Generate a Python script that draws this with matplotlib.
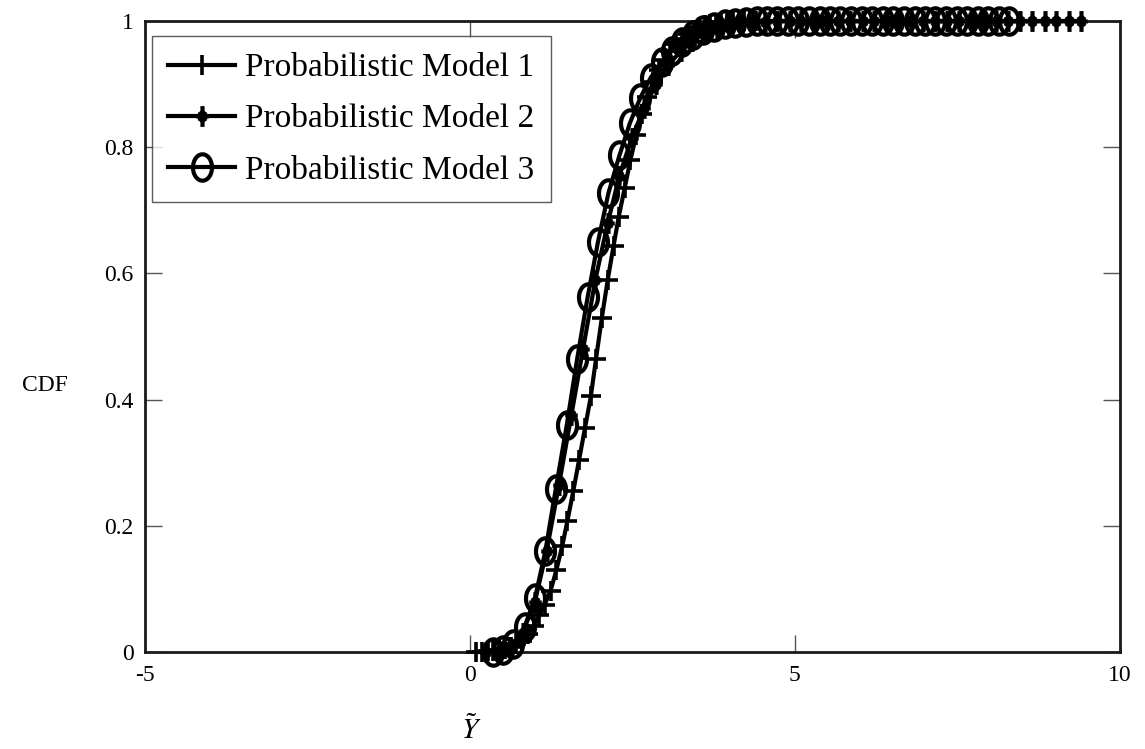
import numpy as np
import matplotlib
matplotlib.use("Agg")
import matplotlib.pyplot as plt
from matplotlib.path import Path

plt.rcParams['font.family'] = ['Liberation Serif', 'DejaVu Serif']
plt.rcParams['mathtext.fontset'] = 'stix'

labels = ["Probabilistic Model 1", "Probabilistic Model 2", "Probabilistic Model 3"]

x1 = [0.10, 0.19, 0.28, 0.36, 0.45, 0.54, 0.63, 0.71, 0.80, 0.89,
      0.98, 1.07, 1.15, 1.24, 1.33, 1.42, 1.50, 1.59, 1.68, 1.77,
      1.86, 1.94, 2.03, 2.12, 2.21, 2.29, 2.38, 2.47, 2.56, 2.65,
      2.73, 2.82, 2.91, 3.00, 3.08, 3.17, 3.26, 3.35, 3.44, 3.52,
      3.61, 3.70, 3.79, 3.87, 3.96, 4.05, 4.14, 4.22, 4.31, 4.40]
y1 = [0.000, 0.000, 0.001, 0.002, 0.003, 0.005, 0.008, 0.012, 0.018, 0.028,
      0.042, 0.058, 0.075, 0.097, 0.130, 0.168, 0.208, 0.255, 0.305, 0.355,
      0.405, 0.465, 0.530, 0.590, 0.644, 0.690, 0.735, 0.780, 0.820, 0.852,
      0.880, 0.903, 0.922, 0.938, 0.952, 0.963, 0.972, 0.980, 0.986, 0.990,
      0.993, 0.995, 0.997, 0.998, 0.999, 0.999, 1.000, 1.000, 1.000, 1.000]

x2 = [0.25, 0.44, 0.62, 0.81, 1.00, 1.18, 1.37, 1.56, 1.74, 1.93,
      2.12, 2.30, 2.49, 2.68, 2.86, 3.05, 3.24, 3.42, 3.61, 3.80,
      3.98, 4.17, 4.36, 4.54, 4.73, 4.92, 5.10, 5.29, 5.48, 5.66,
      5.85, 6.04, 6.22, 6.41, 6.60, 6.78, 6.97, 7.16, 7.34, 7.53,
      7.72, 7.90, 8.09, 8.28, 8.46, 8.65, 8.84, 9.02, 9.21, 9.40]
y2 = [0.000, 0.002, 0.008, 0.030, 0.080, 0.160, 0.265, 0.375, 0.480, 0.590,
      0.680, 0.755, 0.815, 0.862, 0.900, 0.930, 0.952, 0.968, 0.980, 0.988,
      0.993, 0.996, 0.998, 0.999, 1.000, 1.000, 1.000, 1.000, 1.000, 1.000,
      1.000, 1.000, 1.000, 1.000, 1.000, 1.000, 1.000, 1.000, 1.000, 1.000,
      1.000, 1.000, 1.000, 1.000, 1.000, 1.000, 1.000, 1.000, 1.000, 1.000]

x3 = [0.35, 0.51, 0.67, 0.84, 1.00, 1.16, 1.32, 1.49, 1.65, 1.81,
      1.97, 2.13, 2.30, 2.46, 2.62, 2.78, 2.95, 3.11, 3.27, 3.43,
      3.59, 3.76, 3.92, 4.08, 4.24, 4.41, 4.57, 4.73, 4.89, 5.05,
      5.22, 5.38, 5.54, 5.70, 5.87, 6.03, 6.19, 6.35, 6.51, 6.68,
      6.84, 7.00, 7.16, 7.32, 7.49, 7.65, 7.81, 7.97, 8.14, 8.30]
y3 = [0.000, 0.003, 0.012, 0.040, 0.085, 0.160, 0.258, 0.360, 0.465, 0.562,
      0.650, 0.727, 0.787, 0.838, 0.878, 0.910, 0.935, 0.953, 0.967, 0.978,
      0.986, 0.991, 0.995, 0.997, 0.999, 1.000, 1.000, 1.000, 1.000, 1.000,
      1.000, 1.000, 1.000, 1.000, 1.000, 1.000, 1.000, 1.000, 1.000, 1.000,
      1.000, 1.000, 1.000, 1.000, 1.000, 1.000, 1.000, 1.000, 1.000, 1.000]

xticks = [-5, 0, 5, 10]
yticks = [0, 0.2, 0.4, 0.6, 0.8, 1]
yticklabels = ["0", "0.2", "0.4", "0.6", "0.8", "1"]

# vertically elongated markers
t = np.linspace(0, 2 * np.pi, 60)
ellipse = Path(np.column_stack([0.72 * np.cos(t), np.sin(t)]), closed=True)
star_verts = [(0, -1), (0, 1), (-0.6, 0), (0.6, 0), (-0.3, -0.45), (0.3, 0.45),
              (-0.3, 0.45), (0.3, -0.45)]
star = Path(star_verts, [Path.MOVETO, Path.LINETO] * 4)

fig = plt.figure(figsize=(11.45, 7.49), dpi=100)
ax = fig.add_axes([0.1266, 0.1295, 0.8515, 0.8425])

common = dict(color='black', lw=3.0, clip_on=False, zorder=3)
ax.plot(x1, y1, marker='+', markersize=15, mew=2.6, label=labels[0], **common)
ax.plot(x2, y2, marker=star, markersize=15, mew=3.0, label=labels[1], **common)
ax.plot(x3, y3, marker=ellipse, markersize=19, mew=3.0,
        markerfacecolor='none', label=labels[2], **common)

ax.set_xlim(-5, 10)
ax.set_ylim(0, 1)
ax.set_xticks(xticks)
ax.set_xticklabels([str(v) for v in xticks])
ax.set_yticks(yticks)
ax.set_yticklabels(yticklabels)
ax.tick_params(direction='in', length=12, width=1, colors='#555555', labelcolor='black',
               labelsize=17, top=True, right=True)
ax.tick_params(axis='y', pad=8)
ax.tick_params(axis='x', pad=9)
for s in ax.spines.values():
    s.set_linewidth(2.0)
    s.set_color('#1a1a1a')
    s.set_zorder(2)

ax.set_xlabel(r'$\tilde{Y}$', fontsize=21, va='center')
ax.xaxis.set_label_coords(0.335, -0.124)
ax.set_ylabel('CDF', fontsize=17, rotation=0, va='center', ha='center')
ax.yaxis.set_label_coords(-0.103, 0.423)

leg = ax.legend(loc='upper left', bbox_to_anchor=(0.007, 0.976), fontsize=24,
                frameon=True, fancybox=False, edgecolor='#333333', handlelength=2.0,
                handletextpad=0.3, borderpad=0.5, labelspacing=0.62, borderaxespad=0.0)
leg.get_frame().set_linewidth(1.0)
leg.set_zorder(5)

fig.savefig('out.png', dpi=100)
